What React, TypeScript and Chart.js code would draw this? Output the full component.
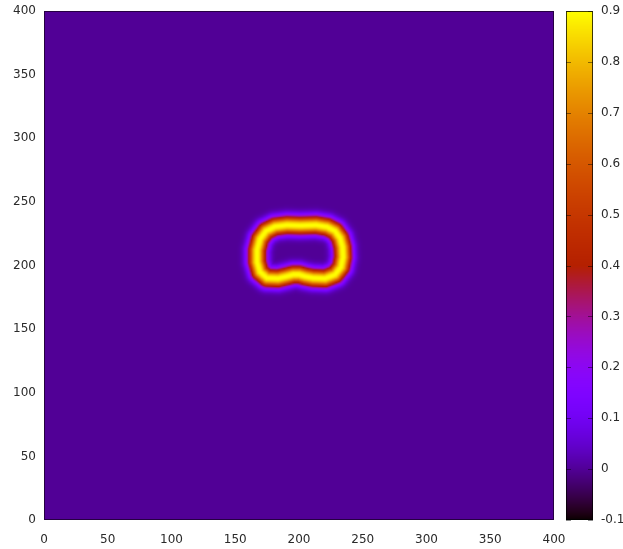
import React, { useEffect, useRef } from "react";
import { Chart, registerables } from "chart.js";

Chart.register(...registerables);

// Axis ticks
const xTicks = [0, 50, 100, 150, 200, 250, 300, 350, 400];
const yTicks = [0, 50, 100, 150, 200, 250, 300, 350, 400];
const cbTicks = [-0.1, 0, 0.1, 0.2, 0.3, 0.4, 0.5, 0.6, 0.7, 0.8, 0.9];

// Field description
const gridSize = 400; // domain 0..400 in both directions
const cbMin = -0.1;
const cbMax = 0.9;
const backgroundValue = 0.0;
const ringPeak = 0.9;
const ringWidth = 7.0;
const ringSharpness = 2.2;
// ring centre line (data coordinates)
const ringX = [200.8, 213.3, 222.0, 228.2, 232.2, 234.1, 234.5, 232.9, 228.2, 220.4, 211.0, 205.0, 200.0, 195.5, 190.0, 183.5, 174.9, 169.4, 167.1, 167.1, 169.4, 174.1, 181.2, 190.6];
const ringY = [231.4, 231.8, 230.3, 227.1, 221.6, 214.5, 206.6, 198.8, 192.9, 189.8, 190.2, 191.4, 192.9, 192.9, 191.4, 189.8, 190.2, 194.9, 202.8, 212.2, 220.8, 227.1, 230.6, 231.8];

function palette(v: number): [number, number, number] {
  let t = (v - cbMin) / (cbMax - cbMin);
  t = Math.max(0, Math.min(1, t));
  const r = Math.sqrt(t);
  const g = t * t * t;
  const b = Math.max(0, Math.sin(2 * Math.PI * t));
  return [Math.round(r * 255), Math.round(g * 255), Math.round(b * 255)];
}

function segDist(px: number, py: number, ax: number, ay: number, bx: number, by: number) {
  const dx = bx - ax, dy = by - ay;
  const l2 = dx * dx + dy * dy;
  let t = l2 > 0 ? ((px - ax) * dx + (py - ay) * dy) / l2 : 0;
  t = Math.max(0, Math.min(1, t));
  const qx = ax + t * dx - px, qy = ay + t * dy - py;
  return Math.sqrt(qx * qx + qy * qy);
}

function fieldValue(x: number, y: number): number {
  let d = Infinity;
  const n = ringX.length;
  for (let i = 0; i < n; i++) {
    const j = (i + 1) % n;
    const dd = segDist(x, y, ringX[i], ringY[i], ringX[j], ringY[j]);
    if (dd < d) d = dd;
  }
  const q = d / ringWidth;
  return backgroundValue + (ringPeak - backgroundValue) * Math.exp(-Math.pow(q, ringSharpness));
}

function buildImage(): HTMLCanvasElement {
  const off = document.createElement("canvas");
  off.width = gridSize;
  off.height = gridSize;
  const c = off.getContext("2d")!;
  const img = c.createImageData(gridSize, gridSize);
  for (let row = 0; row < gridSize; row++) {
    const y = gridSize - row - 0.5;
    for (let col = 0; col < gridSize; col++) {
      const x = col + 0.5;
      const [r, g, b] = palette(fieldValue(x, y));
      const k = (row * gridSize + col) * 4;
      img.data[k] = r;
      img.data[k + 1] = g;
      img.data[k + 2] = b;
      img.data[k + 3] = 255;
    }
  }
  c.putImageData(img, 0, 0);
  return off;
}

const font = { family: "DejaVu Sans", size: 12 };
const textColor = "#2a2a2a";

export default function App() {
  const ref = useRef<HTMLCanvasElement | null>(null);

  useEffect(() => {
    if (!ref.current) return;
    const image = buildImage();

    const heatmapPlugin = {
      id: "heatmap",
      beforeDatasetsDraw(chart: any) {
        const ctx = chart.ctx as CanvasRenderingContext2D;
        const xs = chart.scales.x;
        const ys = chart.scales.y;
        const cb = chart.scales.cb;
        const x0 = xs.getPixelForValue(0);
        const x1 = xs.getPixelForValue(gridSize);
        const y0 = ys.getPixelForValue(gridSize);
        const y1 = ys.getPixelForValue(0);
        ctx.save();
        ctx.imageSmoothingEnabled = true;
        ctx.drawImage(image, x0, y0, x1 - x0, y1 - y0);
        ctx.strokeStyle = "rgba(20,0,30,0.7)";
        ctx.lineWidth = 1;
        ctx.strokeRect(x0 + 0.5, y0 + 0.5, x1 - x0 - 1, y1 - y0 - 1);

        // colour bar
        const cbLeft = x1 + 12;
        const cbRight = cbLeft + 27;
        const top = cb.getPixelForValue(cbMax);
        const bottom = cb.getPixelForValue(cbMin);
        for (let py = Math.floor(top); py < Math.ceil(bottom); py++) {
          const v = cb.getValueForPixel(py + 0.5);
          const [r, g, b] = palette(v);
          ctx.fillStyle = `rgb(${r},${g},${b})`;
          ctx.fillRect(cbLeft, py, cbRight - cbLeft, 1);
        }
        ctx.strokeStyle = "rgba(0,0,0,0.75)";
        ctx.strokeRect(cbLeft + 0.5, top + 0.5, cbRight - cbLeft - 1, bottom - top - 1);
        ctx.strokeStyle = "rgba(0,0,0,0.45)";
        for (const t of cbTicks) {
          const py = Math.round(cb.getPixelForValue(t)) + 0.5;
          ctx.beginPath();
          ctx.moveTo(cbLeft, py);
          ctx.lineTo(cbLeft + 5, py);
          ctx.moveTo(cbRight - 5, py);
          ctx.lineTo(cbRight, py);
          ctx.stroke();
        }
        ctx.restore();
      },
    };

    const zeroVPad = (s: any) => {
      s.paddingTop = 0;
      s.paddingBottom = 0;
    };

    const chart = new Chart(ref.current, {
      type: "scatter",
      data: { datasets: [{ data: [] }] },
      plugins: [heatmapPlugin],
      options: {
        animation: false,
        responsive: false,
        layout: { padding: { top: 11, left: 0, right: 0, bottom: 0 } },
        plugins: { legend: { display: false }, tooltip: { enabled: false } },
        scales: {
          x: {
            type: "linear",
            min: 0,
            max: 400,
            grid: { display: false, drawTicks: false },
            border: { display: false },
            ticks: { font, color: textColor, padding: 13, maxRotation: 0 },
            afterBuildTicks: (s: any) => {
              s.ticks = xTicks.map((v) => ({ value: v }));
            },
            afterFit: (s: any) => {
              s.height = 29;
              s.paddingLeft = 0;
              s.paddingRight = 0;
            },
          },
          y: {
            type: "linear",
            min: 0,
            max: 400,
            grid: { display: false, drawTicks: false },
            border: { display: false },
            ticks: { font, color: textColor, padding: 8 },
            afterBuildTicks: (s: any) => {
              s.ticks = yTicks.map((v) => ({ value: v }));
            },
            afterFit: (s: any) => {
              s.width = 44;
              zeroVPad(s);
            },
          },
          cb: {
            type: "linear",
            position: "right",
            min: cbMin,
            max: cbMax,
            grid: { display: false, drawTicks: false },
            border: { display: false },
            ticks: {
              font,
              color: textColor,
              padding: 47,
              callback: (v: any) => String(Number(Number(v).toFixed(1))),
            },
            afterBuildTicks: (s: any) => {
              s.ticks = cbTicks.map((v) => ({ value: v }));
            },
            afterFit: (s: any) => {
              s.width = 69;
              zeroVPad(s);
            },
          },
        },
      },
    });
    return () => chart.destroy();
  }, []);

  return (
    <div style={{ position: "absolute", left: 0, top: 0, width: 623, height: 549, background: "#fff" }}>
      <canvas ref={ref} width={623} height={549} style={{ display: "block", width: 623, height: 549 }} />
    </div>
  );
}
